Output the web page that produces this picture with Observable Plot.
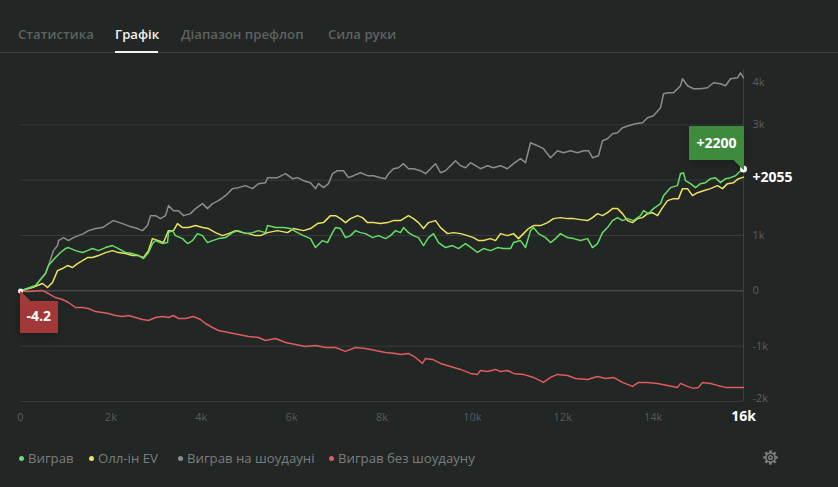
<!DOCTYPE html>
<html><head><meta charset="utf-8">
<script src="https://cdn.jsdelivr.net/npm/d3@7"></script>
<script src="https://cdn.jsdelivr.net/npm/@observablehq/plot@0.6"></script>
<style>
html,body{margin:0;padding:0;background:#222625;width:838px;height:487px;overflow:hidden;font-family:"Open Sans",sans-serif;}
#page{position:relative;width:838px;height:487px;}
.tab{position:absolute;top:24px;font-size:13.2px;font-weight:600;color:#5e6261;white-space:nowrap;line-height:20px;}
.tab.active{color:#f2f2f2;}
#sep{position:absolute;left:0;top:52px;width:838px;height:1px;background:#3e4241;}
#ul{position:absolute;left:115px;top:51px;width:43px;height:2px;background:#f2f2f2;}
#chart{position:absolute;left:0;top:60px;}
.leg{position:absolute;top:448px;font-size:13.2px;color:#7a7e7d;white-space:nowrap;line-height:20px;}
.leg i{display:inline-block;width:5px;height:5px;border-radius:50%;margin-right:4px;vertical-align:middle;position:relative;top:-1px}
#gear{position:absolute;left:763px;top:450px;}
#chart g[aria-label="tip"] text{fill:#ffffff;font-weight:bold;}
</style></head>
<body><div id="page">
<div class="tab" style="left:18px">Статистика</div>
<div class="tab active" style="left:115px">Графік</div>
<div class="tab" style="left:181px">Діапазон префлоп</div>
<div class="tab" style="left:328px">Сила руки</div>
<div id="sep"></div><div id="ul"></div>
<div id="chart"></div>
<div id="legend"></div>
<svg id="gear" width="15" height="15" viewBox="0 0 15 15">
 <g fill="none" stroke="#7a7e7d" stroke-width="1.5" transform="translate(7.5,7.5)">
  <circle r="4.6"/><circle r="1.8"/>
 </g>
 <g fill="#7a7e7d" transform="translate(7.5,7.5)">
  <rect x="-1.3" y="-7.2" width="2.6" height="3" transform="rotate(0)"/>
  <rect x="-1.3" y="-7.2" width="2.6" height="3" transform="rotate(45)"/>
  <rect x="-1.3" y="-7.2" width="2.6" height="3" transform="rotate(90)"/>
  <rect x="-1.3" y="-7.2" width="2.6" height="3" transform="rotate(135)"/>
  <rect x="-1.3" y="-7.2" width="2.6" height="3" transform="rotate(180)"/>
  <rect x="-1.3" y="-7.2" width="2.6" height="3" transform="rotate(225)"/>
  <rect x="-1.3" y="-7.2" width="2.6" height="3" transform="rotate(270)"/>
  <rect x="-1.3" y="-7.2" width="2.6" height="3" transform="rotate(315)"/>
 </g>
</svg>
</div>
<script>
// ---- data ----
const seriesNames = ["Виграв", "Олл-ін EV", "Виграв на шоудауні", "Виграв без шоудауну"];
const seriesColors = ["#66dd66", "#ece35e", "#8c8c8c", "#e05c5c"];

const winHands = [0,332,553,620,775,885,996,1062,1217,1372,1483,1593,1726,1881,2036,2169,2324,2479,2611,2722,2833,2921,2988,3142,3253,3275,3364,3430,3585,3696,3806,3917,4028,4138,4249,4382,4537,4692,4824,4979,5134,5267,5422,5466,5643,5820,5975,6130,6263,6418,6528,6683,6794,6905,6971,7082,7192,7303,7414,7524,7635,7790,7923,8077,8188,8299,8409,8476,8586,8697,8808,8918,9029,9140,9250,9405,9560,9693,9848,10003,10113,10246,10401,10556,10689,10844,10910,11065,11176,11286,11353,11463,11618,11729,11840,11950,12105,12238,12393,12548,12658,12769,12880,12990,13101,13212,13322,13433,13566,13721,13787,13898,14008,14163,14230,14385,14539,14606,14672,14717,14827,14938,15048,15159,15270,15380,15491,15602,15713,15823,15890,16000];
const winValues = [0,96,314,458,603,693,764,782,727,693,727,764,727,782,818,764,693,673,637,583,693,854,908,854,872,1052,1088,998,944,854,908,1034,998,872,908,944,962,1052,1088,1034,1052,1088,1052,1179,1143,1143,1125,1052,998,944,782,908,872,1052,1143,1125,962,998,1088,1052,1034,962,998,944,998,1088,1052,1143,1052,998,962,818,962,1034,872,782,818,764,854,764,693,764,727,782,764,764,872,908,782,1088,1143,1034,962,872,944,1034,962,944,908,944,782,854,1052,1143,1269,1323,1269,1305,1269,1359,1449,1395,1486,1576,1720,1865,1901,2117,2135,1991,1937,1865,1937,1955,2027,2045,1955,2027,2045,2081,2135,2200];

const allinHands = [0,266,487,598,708,819,929,1040,1151,1261,1372,1483,1593,1726,1881,2036,2169,2324,2479,2611,2722,2833,2921,3054,3165,3275,3386,3474,3585,3718,3873,4028,4160,4315,4470,4603,4758,4913,5046,5201,5311,5466,5687,5909,6041,6263,6418,6573,6705,6860,6971,7082,7192,7303,7458,7568,7679,7812,7967,8122,8254,8409,8586,8697,8808,8918,9029,9184,9295,9450,9582,9737,9892,10025,10136,10246,10401,10512,10622,10777,10910,11021,11131,11242,11353,11508,11663,11795,11950,12105,12238,12393,12548,12658,12769,12880,12990,13101,13212,13322,13433,13544,13654,13765,13876,13986,14097,14207,14318,14451,14562,14650,14761,14871,14982,15115,15270,15424,15535,15646,15779,15890,16000];
const allinValues = [0,60,132,60,150,365,403,457,421,493,547,601,601,637,691,727,691,673,637,637,601,727,944,908,872,1088,1088,1215,1143,1143,1179,1143,1125,1052,998,1034,1088,1052,1034,998,998,1052,1088,1052,1125,1088,1125,1215,1233,1359,1359,1305,1233,1305,1359,1323,1233,1233,1215,1233,1269,1269,1359,1305,1233,1125,1233,1269,1143,1034,1052,1034,998,962,908,908,944,908,1034,998,1034,944,1034,1125,1179,1179,1233,1305,1323,1305,1305,1287,1269,1323,1395,1359,1413,1486,1486,1395,1269,1233,1305,1323,1395,1413,1359,1504,1630,1666,1666,1847,1847,1720,1774,1810,1847,1901,1847,1937,1955,2027,2055];

const sdHands = [0,332,553,620,730,819,841,952,1062,1173,1284,1394,1505,1660,1815,1947,2058,2257,2434,2589,2700,2811,2877,2988,3098,3209,3275,3386,3497,3607,3762,3873,4028,4138,4249,4382,4537,4692,4824,4979,5134,5267,5422,5466,5687,5865,6019,6130,6263,6418,6528,6595,6705,6816,6905,7015,7148,7259,7369,7524,7679,7812,7967,8077,8144,8254,8365,8476,8586,8697,8852,8963,9073,9184,9295,9405,9516,9627,9737,9848,9959,10069,10180,10335,10467,10622,10777,10910,11065,11176,11286,11441,11574,11729,11884,12016,12171,12326,12459,12570,12658,12791,12880,12990,13101,13212,13322,13455,13610,13765,13876,14008,14163,14230,14340,14451,14606,14650,14761,14894,15048,15203,15336,15491,15602,15713,15867,15934,16000];
const sdValues = [0,96,314,458,727,818,908,962,908,962,998,1034,1088,1125,1143,1215,1269,1215,1161,1125,1088,1179,1359,1359,1305,1359,1540,1449,1449,1359,1395,1486,1576,1486,1576,1630,1720,1847,1865,1901,1847,1937,1955,2045,2045,2117,2027,2045,1991,1955,1847,1937,1865,1937,2117,2171,2171,2045,2081,2135,2081,2081,2045,2027,2117,2207,2225,2298,2207,2207,2171,2117,2207,2298,2135,2171,2262,2352,2262,2225,2316,2262,2207,2262,2225,2262,2207,2298,2388,2316,2677,2623,2569,2406,2532,2496,2532,2496,2532,2532,2406,2442,2713,2749,2839,2857,2948,2984,3020,3038,3128,3164,3309,3561,3579,3579,3706,3832,3706,3652,3652,3670,3760,3742,3706,3832,3850,3940,3850];

const nsdHands = [0,177,487,620,775,929,1062,1217,1372,1505,1660,1815,1947,2102,2257,2390,2545,2700,2833,2988,3142,3275,3386,3497,3651,3828,3983,4094,4249,4382,4603,4824,5046,5267,5422,5643,5865,6086,6307,6528,6750,6971,7192,7414,7635,7856,8077,8299,8409,8586,8741,8896,8963,9118,9295,9516,9737,9959,10113,10180,10335,10512,10622,10777,10910,11131,11353,11574,11729,11884,12105,12282,12548,12769,12946,13123,13322,13544,13676,13876,14097,14318,14539,14606,14761,14894,15004,15093,15270,15424,15602,15779,16000];
const nsdValues = [-4.2,-13,5,-49,-121,-157,-211,-301,-301,-319,-375,-393,-410,-446,-464,-446,-482,-518,-536,-482,-464,-482,-446,-500,-500,-464,-518,-590,-663,-717,-753,-789,-825,-843,-897,-861,-933,-970,-1005,-987,-1023,-1023,-1095,-1023,-1041,-1078,-1114,-1132,-1150,-1132,-1204,-1312,-1222,-1240,-1312,-1366,-1420,-1492,-1510,-1439,-1457,-1420,-1457,-1439,-1492,-1510,-1565,-1655,-1565,-1510,-1529,-1583,-1601,-1547,-1583,-1565,-1655,-1727,-1655,-1655,-1673,-1709,-1745,-1673,-1727,-1763,-1745,-1655,-1673,-1709,-1745,-1745,-1745];

const xTickValues = [0, 2000, 4000, 6000, 8000, 10000, 12000, 14000];
const xTickTexts = ["0", "2k", "4k", "6k", "8k", "10k", "12k", "14k"];
const xLastValue = 16000, xLastText = "16k";
const gridValues = [-2000, -1000, 1000, 2000, 3000];
const yLabelValues = [3000, 1000, 0, -1000];
const yLabelTexts = ["3k", "1k", "0", "-1k"];
const yTopValue = 4000, yTopText = "4k";
const yBottomValue = -2000, yBottomText = "-2k";
const winCallout = "+2200", allinLabel = "+2055", nsdCallout = "-4.2";

// ---- build ----
const rows = (name, hs, vs) => hs.map((h, i) => ({series: name, hands: h, value: vs[i]}));
const win = rows(seriesNames[0], winHands, winValues);
const allin = rows(seriesNames[1], allinHands, allinValues);
const sd = rows(seriesNames[2], sdHands, sdValues);
const nsd = rows(seriesNames[3], nsdHands, nsdValues);
const winLast = win[win.length - 1];
const allinLast = allin[allin.length - 1];
const nsdFirst = nsd[0];

const marks = [
  Plot.ruleY(gridValues, {stroke: "#363a39", strokeWidth: 1}),
  Plot.ruleY([0], {stroke: "#575b5a", strokeWidth: 1}),
  Plot.ruleX([xLastValue], {stroke: "#3c403f", strokeWidth: 1}),
  Plot.line(sd, {x: "hands", y: "value", stroke: seriesColors[2], strokeWidth: 1.5}),
  Plot.line(nsd, {x: "hands", y: "value", stroke: seriesColors[3], strokeWidth: 1.5}),
  Plot.line(allin, {x: "hands", y: "value", stroke: seriesColors[1], strokeWidth: 1.5}),
  Plot.line(win, {x: "hands", y: "value", stroke: seriesColors[0], strokeWidth: 1.5}),
  Plot.text(xTickValues, {x: d => d, text: (d, i) => xTickTexts[i], frameAnchor: "bottom", dy: 19, fill: "#575b5a", fontSize: 11}),
  Plot.text([xLastValue], {x: d => d, text: () => xLastText, frameAnchor: "bottom", dy: 19, fill: "#ffffff", fontSize: 14, fontWeight: "bold"}),
  Plot.text(yLabelValues, {y: d => d, text: (d, i) => yLabelTexts[i], frameAnchor: "right", dx: 9, textAnchor: "start", fill: "#5a5e5d", fontSize: 11}),
  Plot.text([yTopValue], {y: d => d, text: () => yTopText, frameAnchor: "right", dx: 9, dy: 13, textAnchor: "start", fill: "#5a5e5d", fontSize: 11}),
  Plot.text([yBottomValue], {y: d => d, text: () => yBottomText, frameAnchor: "right", dx: 9, dy: -3, textAnchor: "start", fill: "#5a5e5d", fontSize: 11}),
  Plot.text([allinLast], {x: "hands", y: "value", text: () => allinLabel, dx: 9, textAnchor: "start", fill: "#ffffff", fontSize: 14, fontWeight: "bold"}),
  Plot.dot([nsdFirst], {x: "hands", y: "value", r: 2.5, fill: "#ffffff"}),
  Plot.dot([winLast], {x: "hands", y: "value", r: 3.5, fill: "#ffffff"})
];
if (Plot.tip) {
  marks.push(Plot.tip([winLast], {x: "hands", y: "value", title: () => winCallout, anchor: "bottom-right",
    fill: "#3e8b3e", stroke: "#3e8b3e", fontSize: 14, fontWeight: "bold", textPadding: 7, pointerSize: 10}));
  marks.push(Plot.tip([nsdFirst], {x: "hands", y: "value", title: () => nsdCallout, anchor: "top-left",
    fill: "#a33838", stroke: "#a33838", fontSize: 14, fontWeight: "bold", textPadding: 6, pointerSize: 10}));
}

const chart = Plot.plot({
  width: 838, height: 375,
  marginLeft: 20, marginRight: 95, marginTop: 9, marginBottom: 34,
  style: {background: "transparent", color: "#ffffff", fontFamily: "'Open Sans', sans-serif", overflow: "visible"},
  x: {domain: [0, 16000], axis: null},
  y: {domain: [-2000, 4000], axis: null},
  marks
});
document.getElementById("chart").appendChild(chart);

const legendLefts = [19, 89, 178, 329];
const legendOrder = [0, 1, 2, 3];
const legend = document.getElementById("legend");
legendOrder.forEach((k, i) => {
  const d = document.createElement("div");
  d.className = "leg";
  d.style.left = legendLefts[i] + "px";
  d.innerHTML = `<i style="background:${seriesColors[k]}"></i>${seriesNames[k]}`;
  legend.appendChild(d);
});
</script>
</body></html>
